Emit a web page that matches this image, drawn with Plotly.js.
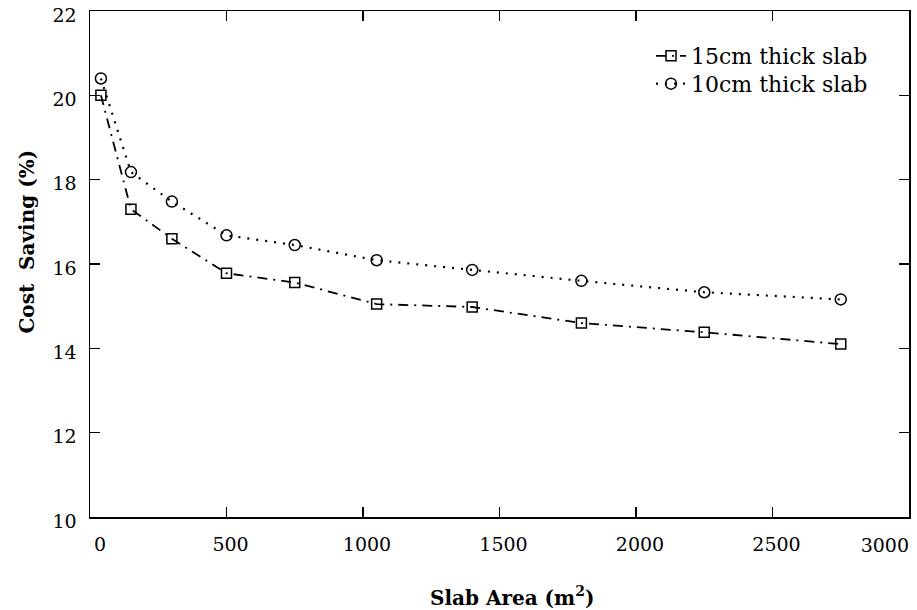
<!DOCTYPE html>
<html><head><meta charset="utf-8">
<script src="https://cdn.plot.ly/plotly-3.0.1.min.js"></script>
<style>body{margin:0;background:#fff}#c{width:917px;height:610px}</style>
</head><body><div id="c"></div>
<script>
var slabArea = [40, 150, 300, 500, 750, 1050, 1400, 1800, 2250, 2750];
var saving15 = [20.0, 17.3, 16.6, 15.78, 15.56, 15.05, 14.98, 14.6, 14.38, 14.1];
var saving10 = [20.4, 18.18, 17.48, 16.68, 16.45, 16.09, 15.86, 15.6, 15.33, 15.16];
var name15 = "15cm thick slab";
var name10 = "10cm thick slab";
var xTickVals = [0, 500, 1000, 1500, 2000, 2500];
var xTickText = ["\u00a0\u00a00", "500", "1000", "1500", "2000", "2500"];
var xEndTickVals = [3000];
var xEndTickText = ["3000"];
var yTickVals = [10, 12, 14, 16, 18, 20, 22];
var xTitle = "\u200B\u00a0\u00a0\u00a0\u00a0<b>Slab Area (m<sup>2</sup>)</b>";
var yTitle = "\u200B\u00a0\u00a0\u00a0\u00a0\u00a0\u00a0\u00a0<b>Cost\u00a0 Saving (%)</b>";

var font = "DejaVu Serif";
var traces = [
 {x: slabArea, y: saving15, name: name15, mode: "lines+markers", type: "scatter", legend: "legend",
  line: {color: "#000", width: 1.8, dash: "10px,6px,2px,6px"},
  marker: {symbol: "square-open", size: 10, color: "#000", line: {width: 1.5}}},
 {x: slabArea, y: saving10, name: name10, mode: "lines+markers", type: "scatter", legend: "legend2",
  line: {color: "#000", width: 2.2, dash: "2px,7px"},
  marker: {symbol: "circle-open", size: 11, color: "#000", line: {width: 1.5}}},
 {x: [3000], y: [null], xaxis: "x2", yaxis: "y", showlegend: false, hoverinfo: "skip", mode: "markers", type: "scatter"}
];
var axisCommon = {showgrid: false, zeroline: false, showline: true, linecolor: "#000", linewidth: 1.5,
  mirror: "ticks", ticks: "inside", ticklen: 10, tickwidth: 1.3, tickcolor: "#000",
  tickfont: {family: font, size: 19, color: "#000"}};
var legendCommon = {xanchor: "left", yanchor: "middle", bgcolor: "rgba(0,0,0,0)",
  font: {family: font, size: 22, color: "#000"}, itemwidth: 30};
var layout = {
  width: 917, height: 610,
  margin: {l: 90, r: 8, t: 11, b: 93},
  paper_bgcolor: "#fff", plot_bgcolor: "#fff",
  showlegend: true,
  legend: Object.assign({}, legendCommon, {x: 0.685, y: 0.911}),
  legend2: Object.assign({}, legendCommon, {x: 0.685, y: 0.856}),
  xaxis: Object.assign({}, axisCommon, {range: [0, 3000], tickvals: xTickVals, ticktext: xTickText,
    ticklabelstandoff: 10, ticklabelshift: 4,
    title: {text: xTitle, font: {family: font, size: 20, color: "#000"}, standoff: 36}}),
  xaxis2: {overlaying: "x", matches: "x", side: "bottom", showline: false, showgrid: false, zeroline: false,
    ticks: "", tickvals: xEndTickVals, ticktext: xEndTickText, ticklabelposition: "outside left",
    ticklabelstandoff: 15, tickfont: {family: font, size: 19, color: "#000"}},
  yaxis: Object.assign({}, axisCommon, {range: [10, 22], tickvals: yTickVals,
    ticklabelstandoff: 8, ticklabelshift: 4, ticklabeloverflow: "allow",
    title: {text: yTitle, font: {family: font, size: 20, color: "#000"}, standoff: 12}})
};
Plotly.newPlot("c", traces, layout, {displayModeBar: false, staticPlot: true});
</script></body></html>
